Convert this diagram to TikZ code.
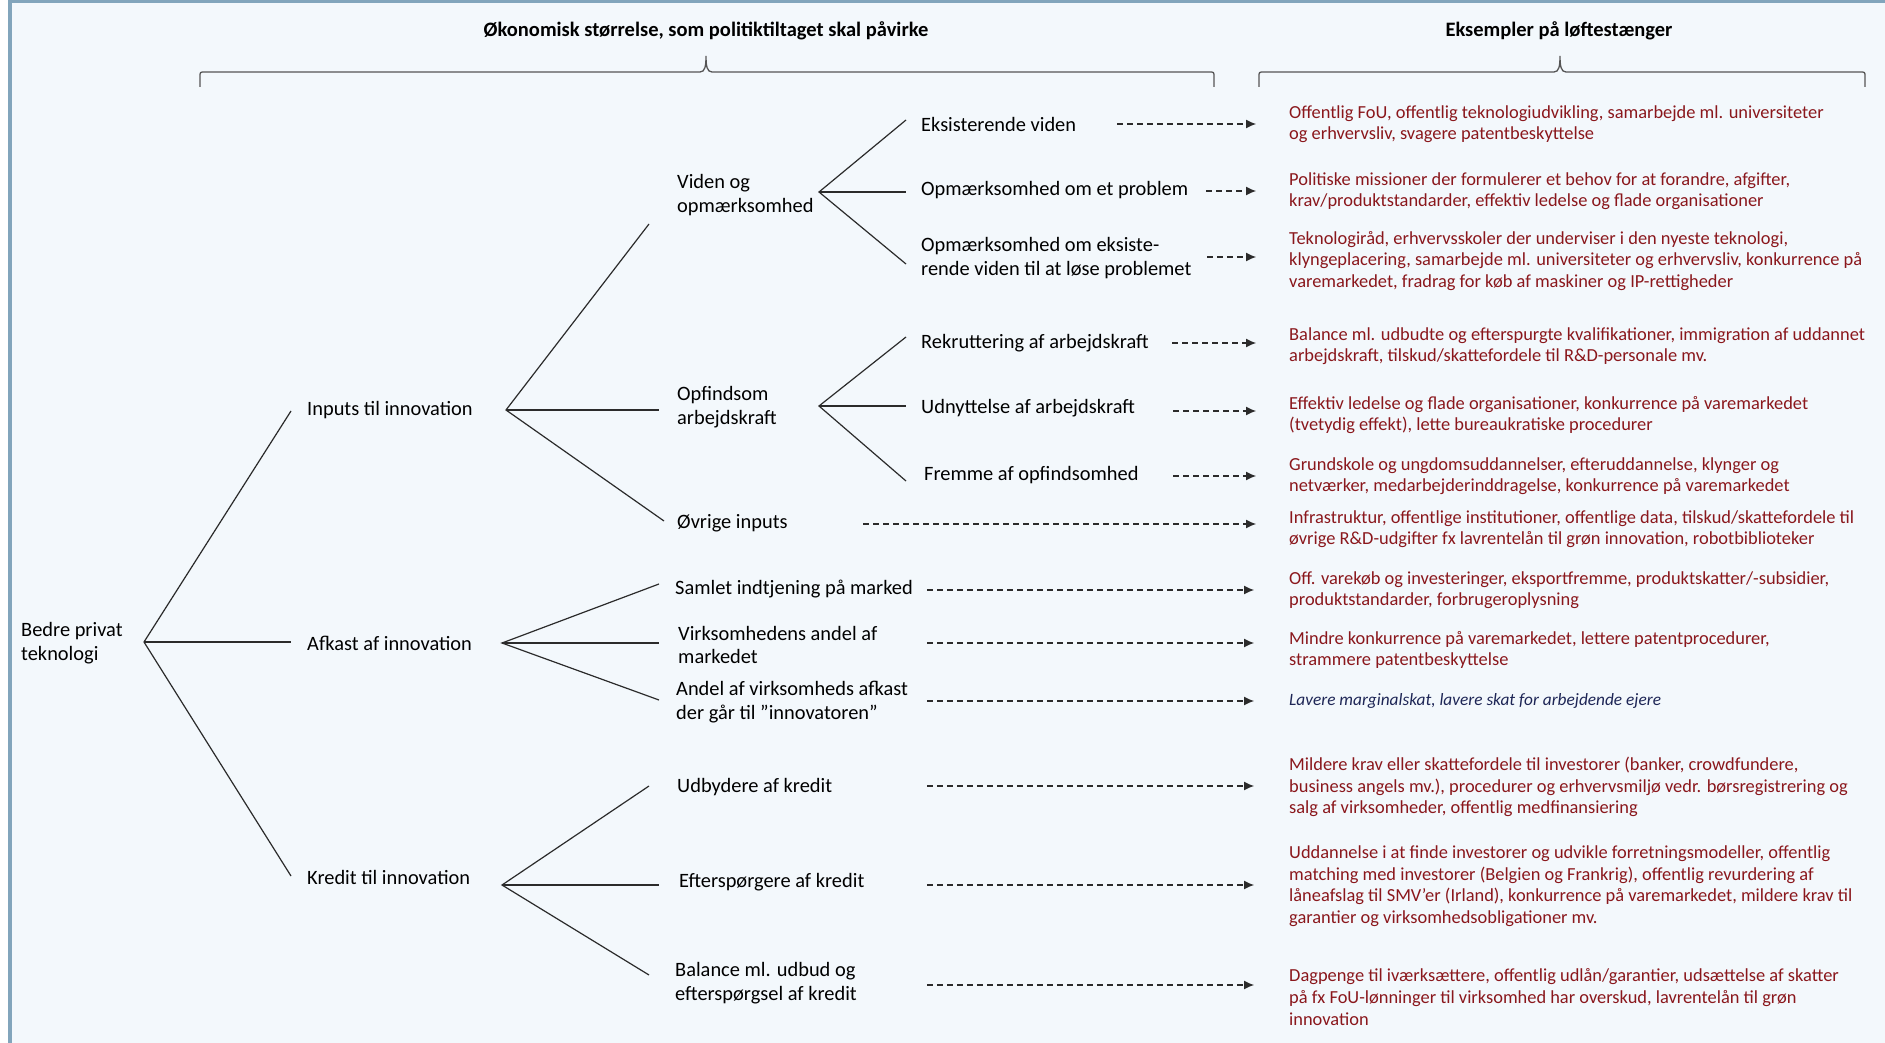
\documentclass[tikz,border=0pt]{standalone}
\usepackage{fontspec}
\setmainfont{Carlito}
\usetikzlibrary{arrows.meta}
\definecolor{bgc}{HTML}{F3F8FC}
\definecolor{framec}{HTML}{82A5BC}
\definecolor{leverred}{HTML}{8A171C}
\definecolor{navyc}{HTML}{1E2656}
\definecolor{ink}{HTML}{2B2B2B}
\begin{document}
\begin{tikzpicture}[x=1pt,y=-1pt,
  tree/.style={draw=ink, line width=1.2pt},
  lbl/.style={anchor=west, inner sep=0pt, align=left, font=\fontsize{20.4}{23.5}\selectfont, text=black},
  lever/.style={anchor=west, inner sep=0pt, align=left, font=\fontsize{18.4}{21.6}\selectfont, text=leverred},
  leverit/.style={anchor=west, inner sep=0pt, align=left, font=\itshape\fontsize{17.3}{20}\selectfont, text=navyc},
  arr/.style={draw=ink, line width=1.1pt, dash pattern=on 6pt off 4pt, -{Latex[length=10pt,width=9pt]}},
  hdr/.style={inner sep=0pt, font=\bfseries\fontsize{20.5}{23}\selectfont},
  bracec/.style={draw=ink!80, line width=1.3pt}]
\useasboundingbox (0,0) rectangle (1885,1043);
\fill[white] (0,0) rectangle (1885,1043);
\fill[bgc] (12,3) rectangle (1885,1043);
\fill[framec] (8,0) rectangle (1885,3);
\fill[framec] (8,0) rectangle (12,1043);

% headers
\node[hdr] (h1) at (706,31) {Økonomisk størrelse, som politiktiltaget skal påvirke};
\node[hdr] (h2) at (1559,31) {Eksempler på løftestænger};

% braces
\draw[bracec] (200,87) -- (200,77) .. controls (200,72) .. (205,72) -- (700,72) .. controls (705,72) and (706,66) .. (706,56) .. controls (706,66) and (707,72) .. (712,72) -- (1209,72) .. controls (1214,72) .. (1214,77) -- (1214,87);
\draw[bracec] (1259,87) -- (1259,77) .. controls (1259,72) .. (1264,72) -- (1554,72) .. controls (1559,72) and (1560,66) .. (1560,56) .. controls (1560,66) and (1561,72) .. (1566,72) -- (1860,72) .. controls (1865,72) .. (1865,77) -- (1865,87);

% level 0
\node[lbl] (root) at (21,643) {Bedre privat\\teknologi};
\coordinate (rJ) at (144,642);

% level 1
\node[lbl] (inp) at (307,410) {Inputs til innovation};
\node[lbl] (afk) at (307,643) {Afkast af innovation};
\node[lbl] (kre) at (307,877) {Kredit til innovation};
\coordinate (iE) at (291,411);
\coordinate (aE) at (291,642);
\coordinate (kE) at (291,876);
\draw[tree] (iE) -- (rJ) -- (kE);
\draw[tree] (rJ) -- (aE);

% level 2
\coordinate (iJ) at (506,410);
\coordinate (aJ) at (502,643);
\coordinate (kJ) at (502,885);
\node[lbl] (vid) at (677,195) {Viden og\\opmærksomhed};
\node[lbl] (opf) at (677,407) {Opfindsom\\arbejdskraft};
\node[lbl] (ovr) at (677,523) {Øvrige inputs};
\node[lbl] (sam) at (675,589) {Samlet indtjening på marked};
\node[lbl] (vir) at (678,645) {Virksomhedens andel af\\markedet};
\node[lbl] (and) at (676,702) {Andel af virksomheds afkast\\der går til ”innovatoren”};
\node[lbl] (udb) at (677,787) {Udbydere af kredit};
\node[lbl] (eft) at (679,882) {Efterspørgere af kredit};
\node[lbl] (bal) at (675,983) {Balance ml. udbud og\\efterspørgsel af kredit};
\coordinate (vidE) at (649,224);
\coordinate (opfE) at (659,410);
\coordinate (ovrE) at (664,521);
\coordinate (samE) at (659,584);
\coordinate (virE) at (659,643);
\coordinate (andE) at (659,700);
\coordinate (udbE) at (649,786);
\coordinate (eftE) at (659,885);
\coordinate (balE) at (649,975);
\draw[tree] (vidE) -- (iJ) -- (ovrE);
\draw[tree] (iJ) -- (opfE);
\draw[tree] (samE) -- (aJ) -- (andE);
\draw[tree] (aJ) -- (virE);
\draw[tree] (udbE) -- (kJ) -- (balE);
\draw[tree] (kJ) -- (eftE);

% level 3
\coordinate (vJ) at (819,192);
\coordinate (oJ) at (819,406);
\node[lbl] (eks) at (921,124) {Eksisterende viden};
\node[lbl] (opp) at (921,190) {Opmærksomhed om et problem};
\node[lbl] (ope) at (921,258) {Opmærksomhed om eksiste-\\rende viden til at løse problemet};
\node[lbl] (rek) at (921,343) {Rekruttering af arbejdskraft};
\node[lbl] (udn) at (921,408) {Udnyttelse af arbejdskraft};
\node[lbl] (fre) at (924,475) {Fremme af opfindsomhed};
\coordinate (eksE) at (906,120);
\coordinate (oppE) at (906,192);
\coordinate (opeE) at (906,264);
\coordinate (rekE) at (906,337);
\coordinate (udnE) at (906,406);
\coordinate (freE) at (906,481);
\draw[tree] (eksE) -- (vJ) -- (opeE);
\draw[tree] (vJ) -- (oppE);
\draw[tree] (rekE) -- (oJ) -- (freE);
\draw[tree] (oJ) -- (udnE);

% levers
\node[lever] (l1) at (1289,124) {Offentlig FoU, offentlig teknologiudvikling, samarbejde ml. universiteter\\og erhvervsliv, svagere patentbeskyttelse};
\node[lever] (l2) at (1289,191) {Politiske missioner der formulerer et behov for at forandre, afgifter,\\krav/produktstandarder, effektiv ledelse og flade organisationer};
\node[lever] (l3) at (1289,261) {Teknologiråd, erhvervsskoler der underviser i den nyeste teknologi,\\klyngeplacering, samarbejde ml. universiteter og erhvervsliv, konkurrence på\\varemarkedet, fradrag for køb af maskiner og IP-rettigheder};
\node[lever] (l4) at (1289,346) {Balance ml. udbudte og efterspurgte kvalifikationer, immigration af uddannet\\arbejdskraft, tilskud/skattefordele til R\&D-personale mv.};
\node[lever] (l5) at (1289,415) {Effektiv ledelse og flade organisationer, konkurrence på varemarkedet\\(tvetydig effekt), lette bureaukratiske procedurer};
\node[lever] (l6) at (1289,476) {Grundskole og ungdomsuddannelser, efteruddannelse, klynger og\\netværker, medarbejderinddragelse, konkurrence på varemarkedet};
\node[lever] (l7) at (1289,529) {Infrastruktur, offentlige institutioner, offentlige data, tilskud/skattefordele til\\øvrige R\&D-udgifter fx lavrentelån til grøn innovation, robotbiblioteker};
\node[lever] (l8) at (1289,590) {Off. varekøb og investeringer, eksportfremme, produktskatter/-subsidier,\\produktstandarder, forbrugeroplysning};
\node[lever] (l9) at (1289,650) {Mindre konkurrence på varemarkedet, lettere patentprocedurer,\\strammere patentbeskyttelse};
\node[leverit] (l10) at (1289,701) {Lavere marginalskat, lavere skat for arbejdende ejere};
\node[lever] (l11) at (1289,787) {Mildere krav eller skattefordele til investorer (banker, crowdfundere,\\business angels mv.), procedurer og erhvervsmiljø vedr. børsregistrering og\\salg af virksomheder, offentlig medfinansiering};
\node[lever] (l12) at (1289,886) {Uddannelse i at finde investorer og udvikle forretningsmodeller, offentlig\\matching med investorer (Belgien og Frankrig), offentlig revurdering af\\låneafslag til SMV’er (Irland), konkurrence på varemarkedet, mildere krav til\\garantier og virksomhedsobligationer mv.};
\node[lever] (l13) at (1289,997) {Dagpenge til iværksættere, offentlig udlån/garantier, udsættelse af skatter\\på fx FoU-lønninger til virksomhed har overskud, lavrentelån til grøn\\innovation};

% dashed arrows
\coordinate (s1) at (1117,124);  \coordinate (t1) at (1256,124);
\coordinate (s2) at (1206,191);  \coordinate (t2) at (1256,191);
\coordinate (s3) at (1207,257);  \coordinate (t3) at (1256,257);
\coordinate (s4) at (1172,343);  \coordinate (t4) at (1256,343);
\coordinate (s5) at (1173,411);  \coordinate (t5) at (1256,411);
\coordinate (s6) at (1173,476);  \coordinate (t6) at (1256,476);
\coordinate (s7) at (863,524);   \coordinate (t7) at (1256,524);
\coordinate (s8) at (927,590);   \coordinate (t8) at (1254,590);
\coordinate (s9) at (927,643);   \coordinate (t9) at (1254,643);
\coordinate (s10) at (927,701);  \coordinate (t10) at (1254,701);
\coordinate (s11) at (927,786);  \coordinate (t11) at (1254,786);
\coordinate (s12) at (927,885);  \coordinate (t12) at (1254,885);
\coordinate (s13) at (927,985);  \coordinate (t13) at (1254,985);
\foreach \i in {1,...,13} {\draw[arr] (s\i) -- (t\i);}
\end{tikzpicture}
\end{document}
